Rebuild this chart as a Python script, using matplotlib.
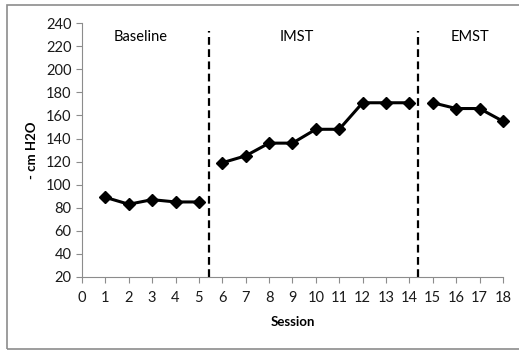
import matplotlib
matplotlib.use('Agg')
import matplotlib.pyplot as plt
from matplotlib.patches import Rectangle

# 数据
baseline_x = [1, 2, 3, 4, 5]
baseline_y = [89, 83, 87, 85, 85]
imst_x = [6, 7, 8, 9, 10, 11, 12, 13, 14]
imst_y = [119, 125, 136, 136, 148, 148, 171, 171, 171]
emst_x = [15, 16, 17, 18]
emst_y = [171, 166, 166, 155]
phase_names = ['Baseline', 'IMST', 'EMST']
phase_label_x = [2.5, 9.2, 16.6]
phase_breaks = [5.45, 14.35]

plt.rcParams['font.family'] = ['Lato', 'DejaVu Sans']
fontsize = 10.5

fig = plt.figure(figsize=(5.19, 3.51), dpi=100)
ax = fig.add_axes([0.158, 0.211, 0.811, 0.723])

# 外边框
fig.patches.append(Rectangle((7 / 519, 2 / 351), 1.0, 1 - 7 / 351, transform=fig.transFigure,
                             fill=False, edgecolor='#8c8c8c', linewidth=1.2, clip_on=False))

for xs, ys in [(baseline_x, baseline_y), (imst_x, imst_y), (emst_x, emst_y)]:
    ax.plot(xs, ys, color='black', linewidth=2.2, marker='D', markersize=6,
            markerfacecolor='black', markeredgecolor='black', clip_on=False)

for b in phase_breaks:
    ax.vlines(b, 20, 233, colors='black', linestyles=(0, (3.5, 2)), linewidth=1.6)

for name, x in zip(phase_names, phase_label_x):
    ax.text(x, 228, name, fontsize=fontsize, ha='center', va='center')

ax.set_xlim(0, 18)
ax.set_ylim(20, 240)
ax.set_xticks(range(0, 19))
ax.set_yticks(range(20, 241, 20))
ax.tick_params(axis='both', labelsize=fontsize, color='#8c8c8c', length=4, width=0.8,
               labelcolor='#1a1a1a')
ax.tick_params(axis='x', pad=6)

ax.spines['top'].set_visible(False)
ax.spines['right'].set_visible(False)
ax.spines['left'].set_color('#8c8c8c')
ax.spines['bottom'].set_color('#8c8c8c')

ax.set_xlabel('Session', fontsize=fontsize - 1, fontweight='bold', labelpad=8)
ax.set_ylabel('- cm H2O', fontsize=fontsize - 1, fontweight='bold', labelpad=6)

plt.savefig('out.png', dpi=100)
